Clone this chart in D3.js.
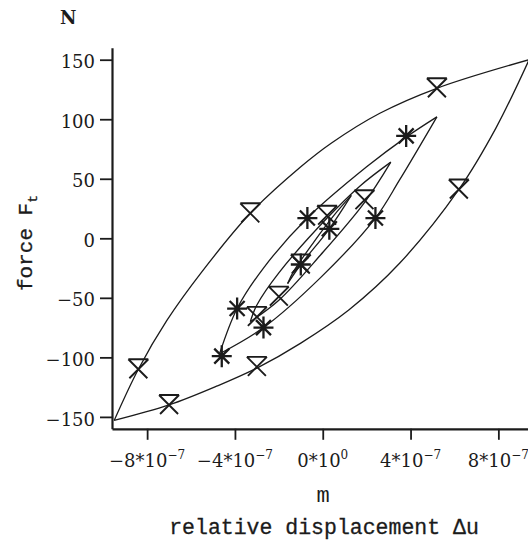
<!DOCTYPE html>
<html><head><meta charset="utf-8">
<script src="https://cdn.jsdelivr.net/npm/d3@7"></script>
<style>body{margin:0;background:#fff}</style>
</head><body>
<script>
// tick values / labels
var xTicks=[-8e-7,-4e-7,0,4e-7,8e-7]
var xTickMant=["\u22128","\u22124","0","4","8"]
var xTickExp=["\u22127","\u22127","0","\u22127","\u22127"]
var yTicks=[-150,-100,-50,0,50,100,150]

// hysteresis loops, [displacement m, force N]
var loop1Upper=[[-9.5e-7,-153],[-8.4e-7,-110],[-7.1e-7,-69],[-5.5e-7,-28],[-3.3e-7,21],[-1.0e-7,60],[0.4e-7,80],[2.6e-7,105],[5.2e-7,126],[9.4e-7,150]]
var loop1Lower=[[-9.5e-7,-153],[-7.0e-7,-140],[-4.8e-7,-124],[-3.0e-7,-109],[-1.0e-7,-88],[1.2e-7,-60],[3.5e-7,-21],[6.2e-7,41],[7.9e-7,93],[9.4e-7,150]]
var loop2Upper=[[-4.7e-7,-97],[-3.9e-7,-59],[-2.7e-7,-25],[-0.7e-7,17],[2.0e-7,60],[3.8e-7,85],[5.2e-7,102]]
var loop2Lower=[[-4.7e-7,-97],[-2.7e-7,-75],[-0.1e-7,-33],[2.4e-7,17],[3.5e-7,49],[5.2e-7,102]]
var loop3Upper=[[-3.3e-7,-70],[-3.0e-7,-56],[-2.0e-7,-29],[0.2e-7,17],[1.7e-7,44],[3.1e-7,64]]
var loop3Lower=[[-3.3e-7,-70],[-2.0e-7,-52],[-0.1e-7,-14],[1.9e-7,30],[3.1e-7,64]]
var loop4Upper=[[-1.6e-7,-38],[-1.3e-7,-27],[-0.4e-7,-3],[0.5e-7,19],[1.3e-7,36]]
var loop4Lower=[[-1.6e-7,-38],[-1.0e-7,-22],[0.3e-7,8],[1.3e-7,36]]

var triMarks=[[-8.4e-7,-110],[-3.3e-7,21],[5.2e-7,126],[-7.0e-7,-140],[-3.0e-7,-108],[6.2e-7,41],
              [-3.0e-7,-66],[-2.0e-7,-49],[1.9e-7,32],[-1.0e-7,-22],[0.2e-7,19]]
var starMarks=[[-4.6e-7,-99],[-3.9e-7,-59],[-0.7e-7,17],[3.8e-7,86],[-2.7e-7,-75],[2.4e-7,17],
               [-1.0e-7,-22],[0.3e-7,8]]

var screen={width:528,height:545}
var ink="#1b1b1b"
var xScale=d3.scaleLinear().domain([-9.6e-7,9.35e-7]).range([112,528])
var yScale=d3.scaleLinear().domain([-160,160]).range([428.8,47.8])

var svg=d3.select("body").append("svg")
          .attr("width",screen.width)
          .attr("height",screen.height)

var line=d3.line()
           .x(function(d){return xScale(d[0])})
           .y(function(d){return yScale(d[1])})
           .curve(d3.curveCatmullRom.alpha(0.5))

var curves=[loop1Upper,loop1Lower,loop2Upper,loop2Lower,loop3Upper,loop3Lower,loop4Upper,loop4Lower]
svg.append("g").selectAll("path")
   .data(curves)
   .enter()
   .append("path")
   .attr("d",line)
   .attr("fill","none")
   .attr("stroke",ink)
   .attr("stroke-width",1.3)

// markers
svg.append("g").selectAll("path")
   .data(triMarks)
   .enter()
   .append("path")
   .attr("transform",function(d){return "translate("+xScale(d[0])+","+yScale(d[1])+")"})
   .attr("d","M-10,-10H10M-10,-10L9,9M10,-10L-9,9")
   .attr("fill","none")
   .attr("stroke",ink)
   .attr("stroke-width",1.9)
svg.append("g").selectAll("path")
   .data(starMarks)
   .enter()
   .append("path")
   .attr("transform",function(d){return "translate("+xScale(d[0])+","+yScale(d[1])+")"})
   .attr("d","M0,-11V11M-10,0H10M-7.5,-7.5L7.5,7.5M-7.5,7.5L7.5,-7.5")
   .attr("fill","none")
   .attr("stroke",ink)
   .attr("stroke-width",2.3)

// axes
var yAxis=svg.append("g")
   .attr("transform","translate(112,0)")
   .call(d3.axisLeft(yScale).tickValues(yTicks).tickSize(12).tickSizeOuter(0).tickPadding(5))
yAxis.selectAll("text").attr("dy","0.45em")
var xAxis=svg.append("g")
   .attr("transform","translate(0,428.8)")
   .call(d3.axisBottom(xScale).tickValues(xTicks).tickSize(11).tickSizeOuter(0).tickFormat(""))
svg.selectAll(".domain").attr("stroke",ink).attr("stroke-width",2.2)
svg.selectAll(".tick line").attr("stroke",ink).attr("stroke-width",1.8)
yAxis.selectAll("text").attr("font-family","DejaVu Serif").attr("font-size",18).attr("fill",ink)

var xLabels=svg.append("g").selectAll("text")
   .data(xTicks)
   .enter()
   .append("text")
   .attr("x",function(d){return xScale(d)})
   .attr("y",467)
   .attr("text-anchor","middle")
   .attr("font-family","DejaVu Serif")
   .attr("font-size",18)
   .attr("fill",ink)
xLabels.append("tspan").text(function(d,i){return xTickMant[i]+"*10"})
xLabels.append("tspan").attr("dy",-8).attr("font-size",12).text(function(d,i){return xTickExp[i]})

// titles
svg.append("text").attr("x",60).attr("y",24)
   .attr("font-family","DejaVu Serif").attr("font-weight","bold").attr("font-size",18)
   .attr("fill",ink).text("N")
svg.append("text").attr("x",323).attr("y",502).attr("text-anchor","middle")
   .attr("font-family","Liberation Mono").attr("font-size",22).attr("fill",ink).text("m")
svg.append("text").attr("x",324).attr("y",534).attr("text-anchor","middle")
   .attr("font-family","Liberation Mono").attr("font-size",21.5).attr("fill",ink)
   .attr("stroke",ink).attr("stroke-width",0.3)
   .text("relative displacement \u0394u")
var yTitle=svg.append("text").attr("transform","translate(32,243) rotate(-90)")
   .attr("text-anchor","middle")
   .attr("font-family","Liberation Mono").attr("font-size",21).attr("fill",ink)
   .attr("stroke",ink).attr("stroke-width",0.3)
yTitle.append("tspan").text("force F")
yTitle.append("tspan").attr("dy",5).attr("font-size",13).text("t")
</script>
</body></html>
